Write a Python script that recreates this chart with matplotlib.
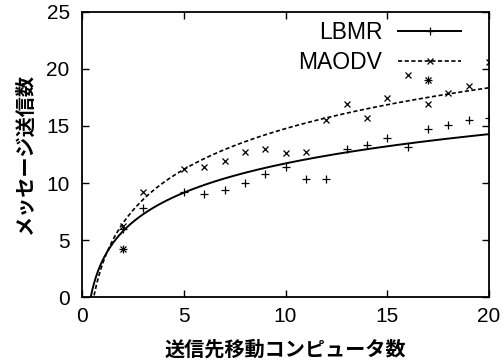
import numpy as np
import matplotlib
matplotlib.use("Agg")
from matplotlib import pyplot as plt

# measured points (x = number of destination computers)
lbmr_x = [2, 2, 3, 5, 6, 7, 8, 9, 10, 11, 12, 13, 14, 15, 16, 17, 17, 18, 19, 20]
lbmr_y = [4.2, 6.0, 7.8, 9.24, 9.04, 9.39, 9.97, 10.79, 11.4, 10.35, 10.35,
          12.95, 13.35, 13.95, 13.15, 14.75, 19.0, 15.1, 15.5, 15.7]

maodv_x = [2, 2, 3, 5, 6, 7, 8, 9, 10, 11, 12, 13, 14, 15, 16, 17, 17, 18, 19, 20]
maodv_y = [4.2, 6.2, 9.24, 11.2, 11.43, 11.96, 12.75, 12.95, 12.6, 12.75, 15.55,
           16.9, 15.68, 17.45, 19.47, 19.04, 16.9, 17.87, 18.5, 20.64]

# fitted curves y = a*ln(x) + b, coefficients
lbmr_fit = (3.7, 3.2)
maodv_fit = (5.16, 2.89)

x_ticks = [0, 5, 10, 15, 20]
y_ticks = [0, 5, 10, 15, 20, 25]

jp = ['Noto Sans CJK JP', 'DejaVu Sans']
plt.rcParams['font.family'] = ['Liberation Sans', 'DejaVu Sans']

fig = plt.figure(figsize=(5.04, 3.61), dpi=100)
ax = fig.add_axes([0.163, 0.177, 0.807, 0.790])

xs = np.linspace(0.3, 20, 400)
ax.plot(xs, lbmr_fit[0] * np.log(xs) + lbmr_fit[1], color='black', lw=1.4)
ax.plot(xs, maodv_fit[0] * np.log(xs) + maodv_fit[1], color='black', lw=1.2,
        dashes=(2.5, 1.5))

ax.plot(lbmr_x, lbmr_y, ls='none', marker='+', ms=5.5, mew=0.9, color='black')
ax.plot(maodv_x, maodv_y, ls='none', marker='x', ms=4.5, mew=0.9, color='black')

# legend handles: line + marker
ax.plot([], [], color='black', lw=1.4, marker='+', ms=5.5, mew=0.9, label='LBMR')
ax.plot([], [], color='black', lw=1.2, dashes=(2.5, 1.5), marker='x', ms=4.5,
        mew=0.9, label='MAODV')
h, l = ax.get_legend_handles_labels()
ax.legend(h, l, loc='upper right', frameon=False, markerfirst=False,
          prop={'family': 'Liberation Sans', 'size': 16.5}, handlelength=2.75,
          handletextpad=0.7, labelspacing=0.3, borderaxespad=0.0,
          bbox_to_anchor=(0.955, 1.0), numpoints=1)

ax.set_xlim(0, 20)
ax.set_ylim(0, 25)
ax.set_xticks(x_ticks)
ax.set_yticks(y_ticks)
ax.tick_params(direction='in', top=True, right=True, length=5, width=1,
               labelsize=15)
ax.tick_params(axis='x', pad=7)
ax.tick_params(axis='y', pad=9)
for s in ax.spines.values():
    s.set_linewidth(1.3)

ax.set_xlabel('送信先移動コンピュータ数', family=jp, fontsize=14.5,
              fontweight='bold', labelpad=9)
ax.set_ylabel('メッセージ送信数', family=jp, fontsize=14.5,
              fontweight='bold', labelpad=8)

fig.savefig('out.png', dpi=100)
